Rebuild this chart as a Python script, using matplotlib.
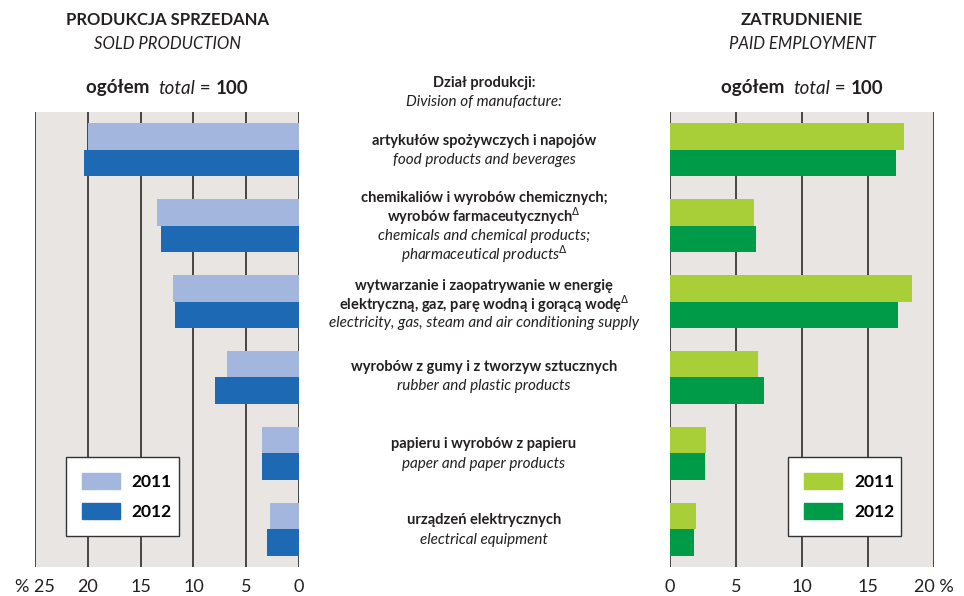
import numpy as np
import matplotlib
matplotlib.use('Agg')
import matplotlib.pyplot as plt
from matplotlib.patches import Patch

plt.rcParams['font.family'] = ['Lato', 'DejaVu Sans']
plt.rcParams['mathtext.fontset'] = 'dejavusans'

# data: share in total, %
cat_pl = ['artykułów spożywczych i napojów',
          'chemikaliów i wyrobów chemicznych;\nwyrobów farmaceutycznych$^{\\Delta}$',
          'wytwarzanie i zaopatrywanie w energię\nelektryczną, gaz, parę wodną i gorącą wodę$^{\\Delta}$',
          'wyrobów z gumy i z tworzyw sztucznych',
          'papieru i wyrobów z papieru',
          'urządzeń elektrycznych']
cat_en = ['food products and beverages',
          'chemicals and chemical products;\npharmaceutical products$^{\\Delta}$',
          'electricity, gas, steam and air conditioning supply',
          'rubber and plastic products',
          'paper and paper products',
          'electrical equipment']
prod_2011 = [20.0, 13.4, 11.9, 6.8, 3.5, 2.7]
prod_2012 = [20.4, 13.1, 11.7, 8.0, 3.5, 3.0]
empl_2011 = [17.7, 6.4, 18.3, 6.7, 2.7, 2.0]
empl_2012 = [17.1, 6.5, 17.3, 7.1, 2.65, 1.8]

W, H = 964, 596
fig = plt.figure(figsize=(W / 100, H / 100), dpi=100)
bg = '#e8e5e2'
ink = '#231f20'

def fx(px):
    return px / W

def fy(py):
    return 1 - py / H

ax_l = fig.add_axes([fx(35), fy(567), fx(264), 455 / H])
ax_r = fig.add_axes([fx(670), fy(567), fx(264), 455 / H])

y = np.arange(len(cat_pl)) + 0.5
bh = 0.35

def setup(ax, xmax, invert):
    ax.set_facecolor(bg)
    ax.set_ylim(len(cat_pl), 0)
    if invert:
        ax.set_xlim(xmax, 0)
    else:
        ax.set_xlim(0, xmax)
    ticks = np.arange(0, xmax + 1, 5)
    ax.set_xticks(ticks)
    for t in ticks:
        ax.axvline(t, color='#1a1a1a', lw=1.1, zorder=1)
    ax.set_yticks([])
    for s in ax.spines.values():
        s.set_visible(False)
    ax.tick_params(axis='x', length=0, labelsize=13, pad=9, labelcolor=ink)

setup(ax_l, 25, True)
ax_l.set_xticklabels(['0', '5', '10', '15', '20', '% 25'])
ax_l.barh(y - bh / 2, prod_2011, height=bh, color='#a3b7de', zorder=2)
ax_l.barh(y + bh / 2, prod_2012, height=bh, color='#1e69b4', zorder=2)

setup(ax_r, 20, False)
ax_r.set_xticklabels(['0', '5', '10', '15', '20 %'])
ax_r.barh(y - bh / 2, empl_2011, height=bh, color='#a8cf38', zorder=2)
ax_r.barh(y + bh / 2, empl_2012, height=bh, color='#009b48', zorder=2)

def legend(ax, c1, c2, x0):
    h = [Patch(color=c1, label='2011'), Patch(color=c2, label='2012')]
    lg = ax.legend(handles=h, loc='upper left', bbox_to_anchor=(x0, 0.242, 0.428, 0.0),
                   mode='expand', prop={'weight': 'bold', 'size': 12.5},
                   handlelength=2.2, handleheight=1.1, handletextpad=0.7,
                   labelspacing=0.75, borderpad=0.9, borderaxespad=0,
                   fancybox=False, framealpha=1, edgecolor='#333333')
    lg.get_frame().set_linewidth(1.0)
    lg.set_zorder(5)

legend(ax_l, '#a3b7de', '#1e69b4', 0.117)
legend(ax_r, '#a8cf38', '#009b48', 0.447)

# middle labels
cx = fx(484)
fig.text(cx, fy(83), 'Dział produkcji:', ha='center', va='center', fontsize=10.5, fontweight='bold', color=ink)
fig.text(cx, fy(102), 'Division of manufacture:', ha='center', va='center', fontsize=11, style='italic', color=ink)

pl_pos = [[141], [198, 216], [286, 304], [367], [444], [520]]
en_pos = [[160], [236, 254], [323], [386], [464], [540]]
for i in range(len(cat_pl)):
    for line, yy in zip(cat_pl[i].split('\n'), pl_pos[i]):
        fig.text(cx, fy(yy), line, ha='center', va='center', fontsize=10.5,
                 fontweight='bold', color=ink)
    for line, yy in zip(cat_en[i].split('\n'), en_pos[i]):
        fig.text(cx, fy(yy), line, ha='center', va='center', fontsize=11,
                 style='italic', color=ink)

# panel headers
fig.canvas.draw()
rend = fig.canvas.get_renderer()

def mixed(xc, yc, parts):
    objs = []
    for txt, kw in parts:
        objs.append(fig.text(0, fy(yc), txt, va='center', ha='left', color=ink, **kw))
    widths = [o.get_window_extent(rend).width / W for o in objs]
    x = fx(xc) - sum(widths) / 2
    for o, w in zip(objs, widths):
        o.set_x(x)
        x += w

for xc, t1, t2 in [(167, 'PRODUKCJA SPRZEDANA', 'SOLD PRODUCTION'),
                   (802, 'ZATRUDNIENIE', 'PAID EMPLOYMENT')]:
    fig.text(fx(xc), fy(20), t1, ha='center', va='center', fontsize=12, fontweight='bold', color=ink)
    fig.text(fx(xc), fy(44), t2, ha='center', va='center', fontsize=12, style='italic', color=ink)
    mixed(xc, 88, [('ogółem  ', dict(fontsize=13.5, fontweight='bold')),
                   ('total', dict(fontsize=13.5, style='italic')),
                   (' = ', dict(fontsize=13.5)),
                   ('100', dict(fontsize=13.5, fontweight='bold'))])

fig.savefig('out.png', dpi=100)
